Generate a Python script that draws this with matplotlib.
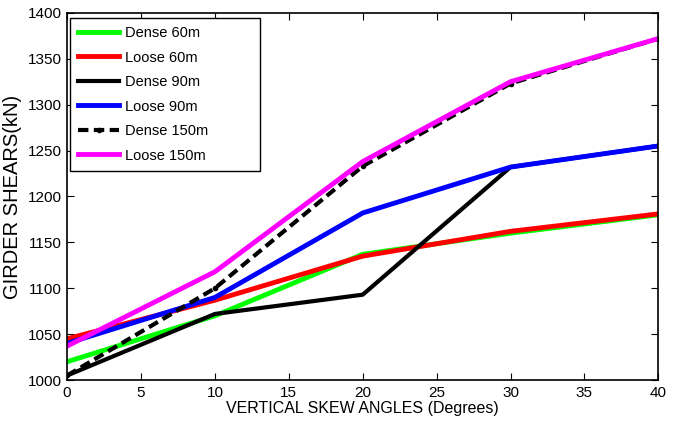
import matplotlib.pyplot as plt

plt.rcParams['font.family'] = ['Liberation Sans', 'DejaVu Sans']

# skew angles (degrees)
angles = [0, 10, 20, 30, 40]

# girder shears (kN)
dense_60 = [1020, 1070, 1137, 1160, 1180]
loose_60 = [1045, 1087, 1135, 1162, 1181]
dense_90 = [1005, 1072, 1093, 1232, 1255]
loose_90 = [1040, 1090, 1182, 1232, 1255]
dense_150 = [1005, 1100, 1233, 1323, 1372]
loose_150 = [1037, 1118, 1238, 1325, 1372]

fig = plt.figure(figsize=(6.78, 4.28), dpi=100)
ax = fig.add_axes([0.099, 0.112, 0.872, 0.858])

ax.plot(angles, dense_60, color='#00ff00', lw=3.5, label='Dense 60m')
ax.plot(angles, loose_60, color='#ff0000', lw=3.5, label='Loose 60m')
ax.plot(angles, dense_90, color='black', lw=3, label='Dense 90m')
ax.plot(angles, loose_90, color='#0000ff', lw=3.5, label='Loose 90m')
ax.plot(angles, dense_150, color='black', lw=3, ls=(0, (2.5, 1.3)),
        marker='.', markersize=6, label='Dense 150m')
ax.plot(angles, loose_150, color='#ff00ff', lw=3.5, label='Loose 150m')

ax.set_xlim(0, 40)
ax.set_ylim(1000, 1400)
ax.set_xticks(range(0, 41, 5))
ax.set_yticks(range(1000, 1401, 50))
ax.tick_params(direction='in', top=True, right=True, labelsize=11, length=5, pad=4)
for s in ax.spines.values():
    s.set_linewidth(1.2)

ax.set_xlabel('VERTICAL SKEW ANGLES (Degrees)', fontsize=11.5, labelpad=1)
ax.set_ylabel('GIRDER SHEARS(kN)', fontsize=14.5, labelpad=4)

# matlab-style legend box, wider than its text
leg = ax.legend(loc='upper left', bbox_to_anchor=(0.005, 0.572, 0.321, 0.414),
                mode='expand', fontsize=10.5, fancybox=False, framealpha=1,
                edgecolor='black', handlelength=2.8, borderaxespad=0,
                labelspacing=0.72, handletextpad=0.4, borderpad=0.55)
leg.get_frame().set_linewidth(1.0)

fig.savefig('out.png', dpi=100)
